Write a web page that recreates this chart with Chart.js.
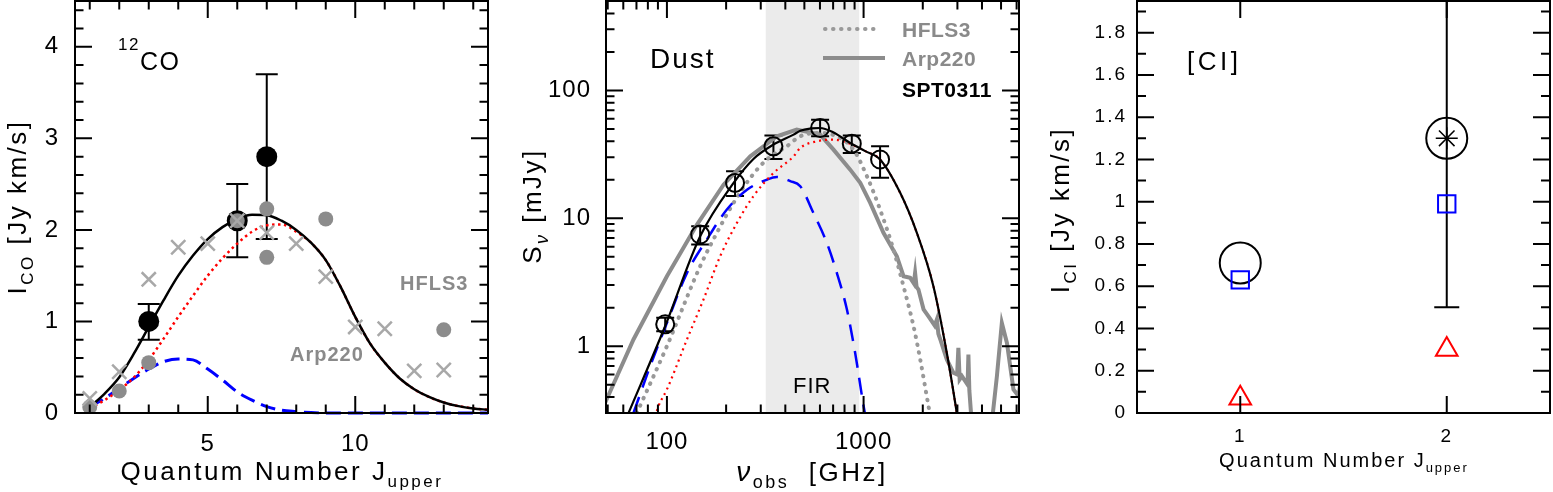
<!DOCTYPE html>
<html><head><meta charset="utf-8">
<script src="https://cdn.jsdelivr.net/npm/chart.js@4.4.0/dist/chart.umd.min.js"></script>
<style>
html,body{margin:0;padding:0;background:#fff;overflow:hidden}
#wrap{position:relative;width:1553px;height:492px;background:#fff}
canvas{position:absolute;top:0}
</style></head><body>
<div id="wrap">
<canvas id="c1" width="500" height="492" style="left:0"></canvas>
<canvas id="c2" width="530" height="492" style="left:500px"></canvas>
<canvas id="c3" width="523" height="492" style="left:1030px"></canvas>
</div>
<script>
const FONT = "'Liberation Sans', Arial, Helvetica, sans-serif";

// ---------------- Panel 1: 12CO ladder ----------------
const coJ_SPT = [3, 6, 7];
const coI_SPT = [1.00, 2.10, 2.80];
const coErrLo_SPT = [0.80, 1.70, 1.90];
const coErrHi_SPT = [1.19, 2.50, 3.70];
const coJ_HFLS3 = [1, 2, 3, 6, 7, 7, 9, 13];
const coI_HFLS3 = [0.065, 0.24, 0.55, 2.10, 2.23, 1.70, 2.12, 0.91];
const coJ_Arp220 = [1, 2, 3, 4, 5, 6, 7, 8, 9, 10, 11, 12, 13];
const coI_Arp220 = [0.16, 0.45, 1.46, 1.81, 1.85, 2.10, 1.97, 1.85, 1.49, 0.94, 0.92, 0.46, 0.47];
const coModelJ = [1,1.5,2,2.5,3,3.5,4,4.5,5,5.5,6,6.5,7,7.5,8,8.5,9,9.5,10,10.5,11,11.5,12,12.5,13,13.5,14,14.5];
const coModelTotal = [0.066,0.21,0.39,0.65,0.94,1.23,1.50,1.72,1.90,2.03,2.12,2.165,2.16,2.10,2.00,1.86,1.67,1.38,1.05,0.76,0.55,0.38,0.26,0.175,0.115,0.075,0.05,0.035];
const coModelWarm  = [0.05,0.14,0.25,0.39,0.58,0.81,1.05,1.28,1.50,1.69,1.85,1.98,2.05,2.06,1.98,1.86,1.67,1.38,1.05,0.76,0.55,0.38,0.26,0.175,0.115,0.075,0.05,0.035];
const coModelCold  = [0.066,0.16,0.27,0.38,0.48,0.56,0.59,0.58,0.48,0.36,0.23,0.14,0.07,0.03,0.015,0.005,0,0,0,0,0,0,0,0,0,0,0,0];
const coXTicks = [5, 10];
const coXTickLabels = ['5', '10'];
const coXMinor = [1,2,3,4,6,7,8,9,11,12,13,14];
const coYTicks = [0, 1, 2, 3, 4];
const coYTickLabels = ['0', '1', '2', '3', '4'];
const coYMinor = [0.2,0.4,0.6,0.8,1.2,1.4,1.6,1.8,2.2,2.4,2.6,2.8,3.2,3.4,3.6,3.8,4.2,4.4];

// ---------------- Panel 2: dust SED ----------------
const dustNu = [98, 147.6, 222, 348, 601, 871, 1213];
const dustS = [1.48, 7.46, 18.9, 36.5, 50.8, 38.3, 28.8];
const dustErrLo = [1.31, 6.23, 14.9, 29.1, 43.7, 32.4, 20.7];
const dustErrHi = [1.67, 8.66, 23.3, 44.3, 59.0, 44.3, 36.5];
const fitNu = [63.8, 97.9, 147.6, 218.3, 275.4, 348.3, 440.6, 476.4, 540, 601.2, 700, 855.1, 1020, 1213, 1535, 1866, 2265, 2649, 2979, 3100];
const fitS  = [0.30, 1.43, 7.23, 18.9, 29.1, 37.7, 45.1, 48.4, 50.4, 50.8, 47.0, 38.8, 33.5, 28.8, 15.8, 7.69, 2.94, 0.887, 0.30, 0.2];
const warmNu = [87.1, 90.6, 100, 126.5, 153.5, 186.6, 227, 275.4, 348.3, 440.6, 476.4, 579.4, 703.1, 855.1, 1020, 1213, 1535, 1866, 2265, 2649, 2979, 3100];
const warmS  = [0.28, 0.34, 0.459, 1.13, 2.32, 5.05, 9.2, 14.9, 22.6, 30.5, 35.5, 40.0, 41.2, 38.2, 33.5, 28.8, 15.8, 7.69, 2.94, 0.887, 0.30, 0.2];
const coldNu = [67.6, 82.2, 100, 126.5, 159.6, 201.8, 255.3, 322.1, 362.2, 423.6, 476.4, 555.9, 650.1, 731.1, 822.2, 905.7, 1000, 1023];
const coldS  = [0.30, 0.698, 1.52, 3.74, 6.82, 11.7, 16.7, 20.0, 21.0, 19.5, 17.8, 11.0, 6.43, 3.74, 1.94, 0.887, 0.34, 0.28];
const hflsNu = [70.3, 100, 147.6, 179.5, 218.3, 265.5, 322.1, 407.4, 476.4, 601.2, 758.6, 889.2, 1040, 1213, 1419, 1596, 1795, 1941, 2138, 2188];
const hflsS  = [0.30, 1.0, 4.22, 7.69, 13.2, 20.7, 28.8, 36.6, 43.8, 46.5, 42.5, 34.4, 21.3, 11.7, 5.69, 2.94, 1.43, 0.787, 0.34, 0.28];
const arpNu = [48.5, 67.6, 100, 142.2, 194.1, 265.5, 362.2, 457.1, 601.2, 703.1, 855.1, 961.6, 1081, 1262, 1476, 1596, 1726, 1800, 1828, 1860, 1901, 2018, 2138, 2300, 2360, 2400, 2455, 2649, 2864, 2990, 3034, 3080, 3162, 3380, 3412, 3450, 3548, 4487, 4764, 5047, 5358, 5781, 6138, 6383];
const arpS  = [0.361, 1.127, 3.52, 8.93, 18.3, 30.5, 43.8, 49.3, 45.1, 34.4, 24.0, 18.9, 13.2, 7.69, 5.05, 3.52, 3.42, 3.1, 3.74, 2.9, 2.77, 1.94, 1.71, 1.45, 1.62, 1.25, 1.13, 0.787, 0.619, 0.6, 0.97, 0.55, 0.583, 0.5, 0.861, 0.45, 0.25, 0.25, 0.583, 1.52, 1.06, 0.459, 0.407, 0.63];
const firBand = [318, 950];
const dustXTicks = [100, 1000];
const dustXTickLabels = ['100', '1000'];
const dustXMinor = [50,60,70,80,90,200,300,400,500,600,700,800,900,2000,3000,4000,5000,6000];
const dustYTicks = [1, 10, 100];
const dustYTickLabels = ['1', '10', '100'];
const dustYMinor = [0.3,0.4,0.5,0.6,0.7,0.8,0.9,2,3,4,5,6,7,8,9,20,30,40,50,60,70,80,90,200,300,400,500];

// ---------------- Panel 3: [CI] ----------------
const ciJ = [1, 2];
const ciI_SPT = [0.71, 1.30];
const ciStarJ = [2];
const ciStarI = [1.30];
const ciErrJ = [2];
const ciErrLo = [0.50];
const ciErrHi = [2.10];
const ciI_modelA = [0.63, 0.99];
const ciI_modelB = [0.07, 0.30];
const ciXTicks = [1, 2];
const ciXTickLabels = ['1', '2'];
const ciYTicks = [0,0.2,0.4,0.6,0.8,1,1.2,1.4,1.6,1.8];
const ciYTickLabels = ['0','0.2','0.4','0.6','0.8','1','1.2','1.4','1.6','1.8'];
const ciYMinor = [0.1,0.3,0.5,0.7,0.9,1.1,1.3,1.5,1.7,1.9];

// ---------------- helpers ----------------
const pts = (xs, ys) => xs.map((x, i) => ({x, y: ys[i]}));

function drawRich(ctx, segs, x, y, o) {
  ctx.save();
  ctx.fillStyle = o.color || '#000';
  ctx.textBaseline = 'alphabetic';
  ctx.textAlign = 'left';
  if ('letterSpacing' in ctx) ctx.letterSpacing = (o.spacing != null ? o.spacing : 2) + 'px';
  const fontOf = s => (s.italic ? 'italic ' : '') + (s.bold ? 'bold ' : '') + s.size + 'px ' + FONT;
  let total = 0;
  segs.forEach(s => { ctx.font = fontOf(s); s._w = ctx.measureText(s.t).width; total += s._w; });
  ctx.translate(x, y);
  if (o.rotate) ctx.rotate(-Math.PI / 2);
  let cx = o.align === 'center' ? -total / 2 : 0;
  segs.forEach(s => { ctx.font = fontOf(s); ctx.fillText(s.t, cx, s.dy || 0); cx += s._w; });
  ctx.restore();
}

function makeScale(o) {
  return {
    type: o.type, min: o.min, max: o.max, position: o.position,
    grid: {display: false, drawTicks: false}, border: {display: false},
    afterBuildTicks: s => { s.ticks = o.ticks.map(v => ({value: v})); },
    afterFit: s => {
      if (o.horizontal) s.height = o.size; else s.width = o.size;
      s.paddingTop = 0; s.paddingBottom = 0; s.paddingLeft = 0; s.paddingRight = 0;
    },
    ticks: {autoSkip: false, maxRotation: 0, minRotation: 0, padding: o.pad, color: '#000',
      font: {family: FONT, size: o.fontSize}, callback: (v, i) => o.labels[i]}
  };
}

function framePlugin(cfg) {
  return {
    id: 'frame',
    beforeDraw(chart) { if ('letterSpacing' in chart.ctx) chart.ctx.letterSpacing = cfg.spacing + 'px'; },
    afterDraw(chart) {
      const ctx = chart.ctx, a = chart.chartArea, xs = chart.scales.x, ys = chart.scales.y;
      ctx.save();
      ctx.strokeStyle = '#000'; ctx.lineWidth = 2; ctx.lineCap = 'butt';
      ctx.beginPath();
      const seg = (x1, y1, x2, y2) => { ctx.moveTo(x1, y1); ctx.lineTo(x2, y2); };
      const doX = (vals, len) => vals.forEach(v => { const p = xs.getPixelForValue(v); seg(p, a.bottom, p, a.bottom - len); seg(p, a.top, p, a.top + len); });
      const doY = (vals, len) => vals.forEach(v => { const p = ys.getPixelForValue(v); seg(a.left, p, a.left + len, p); seg(a.right, p, a.right - len, p); });
      doX(cfg.xMajor, cfg.major); doX(cfg.xMinor, cfg.minor);
      doY(cfg.yMajor, cfg.major); doY(cfg.yMinor, cfg.minor);
      ctx.stroke();
      ctx.strokeRect(a.left, a.top, a.right - a.left, a.bottom - a.top);
      ctx.restore();
      (cfg.texts || []).forEach(t => drawRich(ctx, t.segs, t.x, t.y, t));
      if (cfg.extra) cfg.extra(chart);
    }
  };
}

function errPlugin(list) {
  return {
    id: 'errbars',
    beforeDatasetsDraw(chart) {
      const ctx = chart.ctx, a = chart.chartArea, xs = chart.scales.x, ys = chart.scales.y;
      ctx.save();
      ctx.beginPath(); ctx.rect(a.left, a.top - 1, a.right - a.left, a.bottom - a.top + 2); ctx.clip();
      list.forEach(e => {
        ctx.strokeStyle = e.color; ctx.lineWidth = e.lw;
        e.x.forEach((xv, i) => {
          const px = xs.getPixelForValue(xv), p1 = ys.getPixelForValue(e.lo[i]), p2 = ys.getPixelForValue(e.hi[i]);
          ctx.beginPath();
          ctx.moveTo(px, p1); ctx.lineTo(px, p2);
          ctx.moveTo(px - e.cap, p1); ctx.lineTo(px + e.cap, p1);
          ctx.moveTo(px - e.cap, p2); ctx.lineTo(px + e.cap, p2);
          ctx.stroke();
        });
      });
      ctx.restore();
    }
  };
}

const common = {
  responsive: false, animation: false, devicePixelRatio: 1,
  plugins: {legend: {display: false}, tooltip: {enabled: false}},
  events: []
};

// ---------------- Chart 1 ----------------
new Chart(document.getElementById('c1'), {
  type: 'scatter',
  data: {datasets: [
    {label: 'Arp220', data: pts(coJ_Arp220, coI_Arp220), pointStyle: 'crossRot', pointRadius: 10, borderColor: '#a8a8a8', borderWidth: 2.5, backgroundColor: 'rgba(0,0,0,0)'},
    {label: 'HFLS3', data: pts(coJ_HFLS3, coI_HFLS3), pointStyle: 'circle', pointRadius: 7.5, backgroundColor: '#8c8c8c', borderWidth: 0},
    {label: 'SPT0311', data: pts(coJ_SPT, coI_SPT), pointStyle: 'circle', pointRadius: 10.5, backgroundColor: '#000', borderColor: '#000', borderWidth: 0},
    {type: 'line', label: 'total', data: pts(coModelJ, coModelTotal), borderColor: '#000', borderWidth: 2.5, pointRadius: 0, cubicInterpolationMode: 'monotone', fill: false, clip: false},
    {type: 'line', label: 'warm', data: pts(coModelJ, coModelWarm), borderColor: '#ff0000', borderWidth: 2.5, borderDash: [2.5, 3.5], pointRadius: 0, cubicInterpolationMode: 'monotone', fill: false, clip: false},
    {type: 'line', label: 'cold', data: pts(coModelJ, coModelCold), borderColor: '#0000ff', borderWidth: 3, borderDash: [15, 7], pointRadius: 0, cubicInterpolationMode: 'monotone', fill: false, clip: false}
  ]},
  options: Object.assign({}, common, {
    layout: {autoPadding: false, padding: {left: 0, right: 12, top: 1, bottom: 0}},
    scales: {
      x: makeScale({type: 'linear', min: 0.5, max: 14.5, ticks: coXTicks, labels: coXTickLabels, horizontal: true, size: 79, pad: 17, fontSize: 24, position: 'bottom'}),
      y: makeScale({type: 'linear', min: 0, max: 4.5, ticks: coYTicks, labels: coYTickLabels, size: 75, pad: 16, fontSize: 24, position: 'left'})
    }
  }),
  plugins: [errPlugin([{x: coJ_SPT, lo: coErrLo_SPT, hi: coErrHi_SPT, cap: 11, lw: 2, color: '#000'}]),
    framePlugin({spacing: 1, major: 17, minor: 8.5, xMajor: coXTicks, xMinor: coXMinor, yMajor: coYTicks, yMinor: coYMinor,
      texts: [
        {segs: [{t: '12', size: 17, dy: -20}, {t: 'CO', size: 25}], x: 118, y: 70, spacing: 1.5},
        {segs: [{t: 'HFLS3', size: 20, bold: true}], x: 400, y: 290, color: '#8a8a8a', spacing: 1},
        {segs: [{t: 'Arp220', size: 20, bold: true}], x: 290, y: 361, color: '#8a8a8a', spacing: 1},
        {segs: [{t: 'I', size: 26}, {t: 'CO', size: 17, dy: 7}, {t: ' [Jy km/s]', size: 26}], x: 26, y: 207, rotate: true, align: 'center', spacing: 2.5},
        {segs: [{t: 'Quantum Number J', size: 26}, {t: 'upper', size: 17, dy: 7}], x: 282, y: 480, align: 'center', spacing: 2.5}
      ]})]
});

// ---------------- Chart 2 ----------------
new Chart(document.getElementById('c2'), {
  type: 'scatter',
  data: {datasets: [
    {label: 'SPT0311', data: pts(dustNu, dustS), pointStyle: 'circle', pointRadius: 9, borderColor: '#000', borderWidth: 2, backgroundColor: 'rgba(0,0,0,0)'},
    {type: 'line', label: 'fit', data: pts(fitNu, fitS), borderColor: '#000', borderWidth: 2.2, pointRadius: 0, cubicInterpolationMode: 'monotone', fill: false},
    {type: 'line', label: 'warm', data: pts(warmNu, warmS), borderColor: '#ff0000', borderWidth: 2.2, borderDash: [2, 4], pointRadius: 0, cubicInterpolationMode: 'monotone', fill: false},
    {type: 'line', label: 'cold', data: pts(coldNu, coldS), borderColor: '#0000ff', borderWidth: 2.5, borderDash: [17, 10], pointRadius: 0, cubicInterpolationMode: 'monotone', fill: false},
    {type: 'line', label: 'HFLS3', data: pts(hflsNu, hflsS), borderColor: '#999999', borderWidth: 4, borderDash: [0.5, 7.5], borderCapStyle: 'round', pointRadius: 0, cubicInterpolationMode: 'monotone', fill: false},
    {type: 'line', label: 'Arp220', data: pts(arpNu, arpS), borderColor: '#8c8c8c', borderWidth: 4, pointRadius: 0, tension: 0, fill: false}
  ]},
  options: Object.assign({}, common, {
    layout: {autoPadding: false, padding: {left: 0, right: 11, top: 1, bottom: 0}},
    scales: {
      x: makeScale({type: 'logarithmic', min: 49, max: 6170, ticks: dustXTicks, labels: dustXTickLabels, horizontal: true, size: 79, pad: 15, fontSize: 24, position: 'bottom'}),
      y: makeScale({type: 'logarithmic', min: 0.3, max: 500, ticks: dustYTicks, labels: dustYTickLabels, size: 106, pad: 15, fontSize: 24, position: 'left'})
    }
  }),
  plugins: [
    {id: 'band', beforeDatasetsDraw(chart) {
      const ctx = chart.ctx, a = chart.chartArea, xs = chart.scales.x;
      const x1 = xs.getPixelForValue(firBand[0]), x2 = xs.getPixelForValue(firBand[1]);
      ctx.save(); ctx.fillStyle = '#ebebeb'; ctx.fillRect(x1, a.top, x2 - x1, a.bottom - a.top); ctx.restore();
    }},
    errPlugin([{x: dustNu, lo: dustErrLo, hi: dustErrHi, cap: 9, lw: 2, color: '#000'}]),
    framePlugin({spacing: 1, major: 17, minor: 8.5, xMajor: dustXTicks, xMinor: dustXMinor, yMajor: dustYTicks, yMinor: dustYMinor,
      texts: [
        {segs: [{t: 'Dust', size: 28}], x: 150, y: 68, spacing: 2},
        {segs: [{t: 'HFLS3', size: 21, bold: true}], x: 402, y: 37, color: '#8a8a8a', spacing: 0.5},
        {segs: [{t: 'Arp220', size: 21, bold: true}], x: 402, y: 66, color: '#8a8a8a', spacing: 0.5},
        {segs: [{t: 'SPT0311', size: 21, bold: true}], x: 402, y: 97, color: '#000', spacing: 0.5},
        {segs: [{t: 'FIR', size: 22}], x: 293, y: 393, spacing: 1},
        {segs: [{t: 'S', size: 26}, {t: 'ν', size: 18, dy: 7, italic: true}, {t: ' [mJy]', size: 26}], x: 41, y: 206, rotate: true, align: 'center', spacing: 2.5},
        {segs: [{t: 'ν', size: 28, italic: true}, {t: 'obs', size: 18, dy: 7}, {t: '  [GHz]', size: 26}], x: 312, y: 481, align: 'center', spacing: 2.5}
      ],
      extra(chart) {
        const ctx = chart.ctx;
        ctx.save();
        ctx.lineWidth = 4; ctx.strokeStyle = '#999999'; ctx.lineCap = 'round'; ctx.setLineDash([0.5, 7.5]);
        ctx.beginPath(); ctx.moveTo(325, 29); ctx.lineTo(380, 29); ctx.stroke();
        ctx.setLineDash([]); ctx.lineCap = 'butt'; ctx.strokeStyle = '#8c8c8c';
        ctx.beginPath(); ctx.moveTo(323, 58); ctx.lineTo(385, 58); ctx.stroke();
        ctx.restore();
      }})]
});

// ---------------- Chart 3 ----------------
new Chart(document.getElementById('c3'), {
  type: 'scatter',
  data: {datasets: [
    {label: 'model B', data: pts(ciJ, ciI_modelB), pointStyle: 'triangle', pointRadius: 12.5, borderColor: '#ff0000', borderWidth: 2, backgroundColor: 'rgba(0,0,0,0)'},
    {label: 'model A', data: pts(ciJ, ciI_modelA), pointStyle: 'rect', pointRadius: 12.3, borderColor: '#0000ff', borderWidth: 2, backgroundColor: 'rgba(0,0,0,0)'},
    {label: 'star', data: pts(ciStarJ, ciStarI), pointStyle: 'star', pointRadius: 11, borderColor: '#000', borderWidth: 1.5, backgroundColor: 'rgba(0,0,0,0)'},
    {label: 'SPT0311', data: pts(ciJ, ciI_SPT), pointStyle: 'circle', pointRadius: 20.5, borderColor: '#000', borderWidth: 2, backgroundColor: 'rgba(0,0,0,0)'}
  ]},
  options: Object.assign({}, common, {
    layout: {autoPadding: false, padding: {left: 0, right: 3, top: 1, bottom: 0}},
    scales: {
      x: makeScale({type: 'linear', min: 0.5, max: 2.5, ticks: ciXTicks, labels: ciXTickLabels, horizontal: true, size: 79, pad: 12, fontSize: 19, position: 'bottom'}),
      y: makeScale({type: 'linear', min: 0, max: 1.95, ticks: ciYTicks, labels: ciYTickLabels, size: 107, pad: 10, fontSize: 19, position: 'left'})
    }
  }),
  plugins: [errPlugin([{x: ciErrJ, lo: ciErrLo, hi: ciErrHi, cap: 12.5, lw: 2, color: '#000'}]),
    framePlugin({spacing: 2, major: 17, minor: 9, xMajor: ciXTicks, xMinor: [], yMajor: ciYTicks, yMinor: ciYMinor,
      texts: [
        {segs: [{t: '[CI]', size: 26}], x: 157, y: 70, spacing: 3.5},
        {segs: [{t: 'I', size: 26}, {t: 'CI', size: 17, dy: 7}, {t: ' [Jy km/s]', size: 26}], x: 39, y: 210, rotate: true, align: 'center', spacing: 2.5},
        {segs: [{t: 'Quantum Number J', size: 20}, {t: 'upper', size: 13, dy: 5}], x: 314, y: 467, align: 'center', spacing: 2}
      ]})]
});
</script>
</body></html>
